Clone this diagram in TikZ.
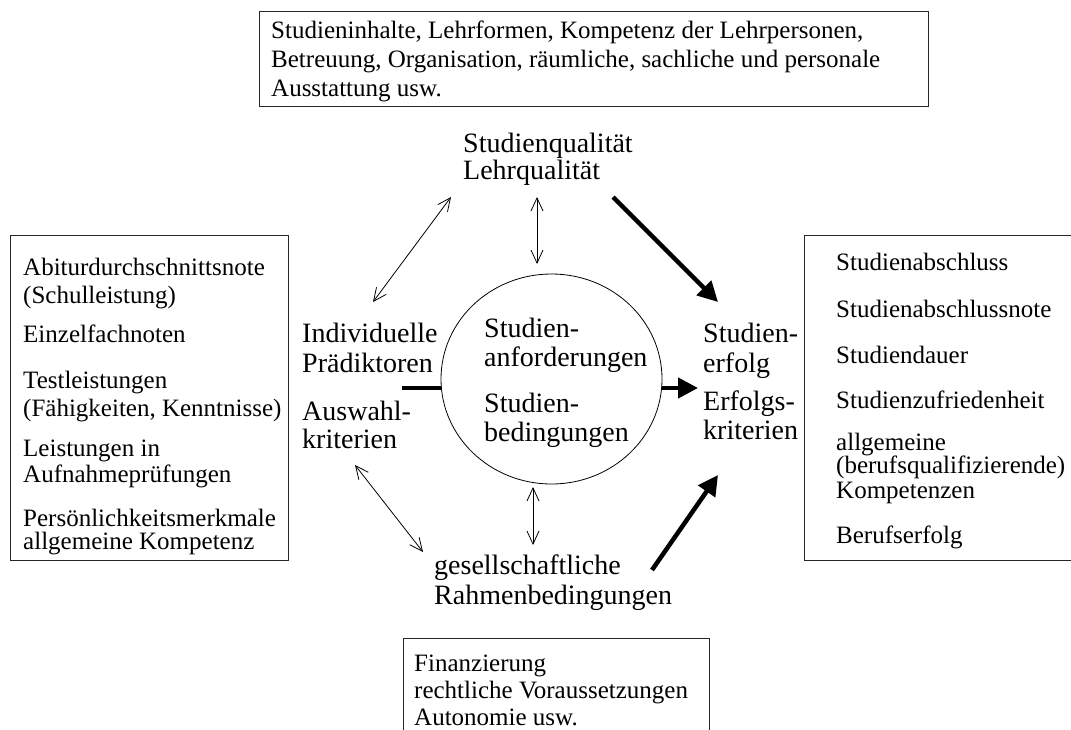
\documentclass[tikz,border=0pt]{standalone}
\usepackage{fontspec}
\setmainfont{Liberation Serif}
\usetikzlibrary{arrows.meta,shapes.geometric}
\tikzset{
  boxtxt/.style={anchor=base west, inner sep=0pt, font=\fontsize{25}{28}\selectfont},
  lbl/.style={anchor=base west, inner sep=0pt, font=\fontsize{28}{30}\selectfont},
  frame/.style={draw=black!85, line width=0.9pt, anchor=north west, inner sep=0pt},
  thin/.style={line width=0.8pt, {Straight Barb[length=13pt,width=12pt,line width=0.8pt]}-{Straight Barb[length=13pt,width=12pt,line width=0.8pt]}},
  thick/.style={line width=4.5pt, -{Triangle[length=20pt,width=20pt]}},
}
\begin{document}
\begin{tikzpicture}[x=1pt,y=-1pt]
\useasboundingbox (0,0) rectangle (1071,729);
% boxes
\node[frame, minimum width=669pt, minimum height=95pt] (topbox) at (259,11) {};
\node[frame, minimum width=278pt, minimum height=325pt] (leftbox) at (10,235) {};
\node[frame, minimum width=290pt, minimum height=325pt] (rightbox) at (804,235) {};
\node[frame, minimum width=306pt, minimum height=110pt] (botbox) at (403,638) {};
% top box text
\node[boxtxt] (t1) at (271,38) {Studieninhalte, Lehrformen, Kompetenz der Lehrpersonen,};
\node[boxtxt] (t2) at (271,67) {Betreuung, Organisation, räumliche, sachliche und personale};
\node[boxtxt] (t3) at (271,96) {Ausstattung usw.};
% left box text
\node[boxtxt] (l1) at (23,275) {Abiturdurchschnittsnote};
\node[boxtxt] (l2) at (23,303) {(Schulleistung)};
\node[boxtxt] (l3) at (23,342) {Einzelfachnoten};
\node[boxtxt] (l4) at (23,388) {Testleistungen};
\node[boxtxt] (l5) at (23,416) {(Fähigkeiten, Kenntnisse)};
\node[boxtxt] (l6) at (23,456) {Leistungen in};
\node[boxtxt] (l7) at (23,482) {Aufnahmeprüfungen};
\node[boxtxt] (l8) at (23,526) {Persönlichkeitsmerkmale};
\node[boxtxt] (l9) at (23,549) {allgemeine Kompetenz};
% right box text
\node[boxtxt] (r1) at (836,270) {Studienabschluss};
\node[boxtxt] (r2) at (836,317) {Studienabschlussnote};
\node[boxtxt] (r3) at (836,363) {Studiendauer};
\node[boxtxt] (r4) at (836,408) {Studienzufriedenheit};
\node[boxtxt] (r5) at (836,450) {allgemeine};
\node[boxtxt] (r6) at (836,473) {(berufsqualifizierende)};
\node[boxtxt] (r7) at (836,498) {Kompetenzen};
\node[boxtxt] (r8) at (836,543) {Berufserfolg};
% bottom box text
\node[boxtxt] (b1) at (414,671) {Finanzierung};
\node[boxtxt] (b2) at (414,698) {rechtliche Voraussetzungen};
\node[boxtxt] (b3) at (414,725) {Autonomie usw.};
% labels
\node[lbl] (q1) at (463,152) {Studienqualität};
\node[lbl] (q2) at (463,179) {Lehrqualität};
\node[lbl] (i1) at (302,342) {Individuelle};
\node[lbl] (i2) at (302,372) {Prädiktoren};
\node[lbl] (i3) at (302,420) {Auswahl-};
\node[lbl] (i4) at (302,448) {kriterien};
\node[lbl] (e1) at (703,342) {Studien-};
\node[lbl] (e2) at (703,372) {erfolg};
\node[lbl] (e3) at (703,410) {Erfolgs-};
\node[lbl] (e4) at (703,439) {kriterien};
\node[lbl] (g1) at (434,574) {gesellschaftliche};
\node[lbl] (g2) at (434,604) {Rahmenbedingungen};
% circle
\node[ellipse, draw, line width=0.8pt, minimum width=221pt, minimum height=210pt, inner sep=0pt] (c) at (551.5,379) {};
\node[lbl] (c1) at (484,337) {Studien-};
\node[lbl] (c2) at (484,366) {anforderungen};
\node[lbl] (c3) at (484,412) {Studien-};
\node[lbl] (c4) at (484,441) {bedingungen};
% arrow endpoints
\coordinate (a1s) at (373,302); \coordinate (a1e) at (451,197);
\coordinate (a2s) at (537,197); \coordinate (a2e) at (537,264);
\coordinate (a3s) at (355,465); \coordinate (a3e) at (423,552);
\coordinate (a4s) at (533,487); \coordinate (a4e) at (533,545);
\coordinate (k1s) at (613,197); \coordinate (k1e) at (718,302);
\coordinate (k2s) at (652,570); \coordinate (k2e) at (718,475);
\coordinate (hl) at (402,388); \coordinate (hr) at (698,388);
% connectors
\draw[thin] (a1s) -- (a1e);
\draw[thin] (a2s) -- (a2e);
\draw[thin] (a3s) -- (a3e);
\draw[thin] (a4s) -- (a4e);
\draw[thick] (k1s) -- (k1e);
\draw[thick] (k2s) -- (k2e);
\draw[line width=4.5pt] (hl) -- (hl -| c.west);
\draw[thick] (hr -| c.east) -- (hr);
\end{tikzpicture}
\end{document}
